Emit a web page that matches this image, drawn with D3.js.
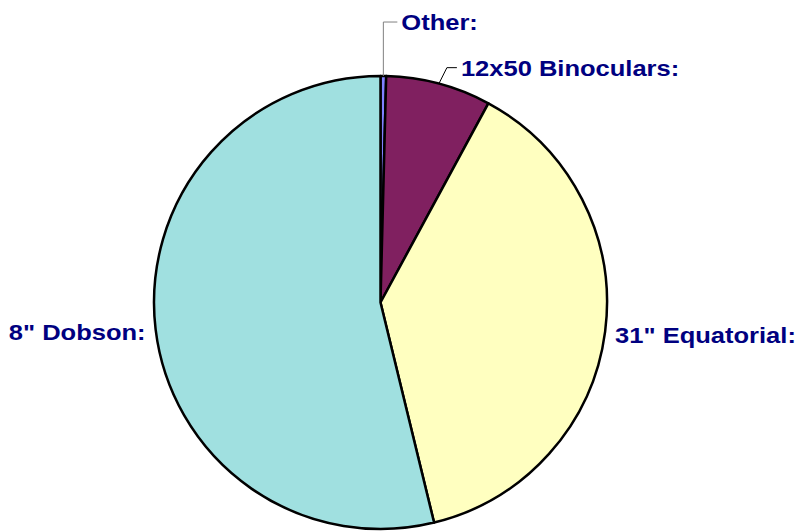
<!DOCTYPE html>
<html lang="en">
<head>
<meta charset="utf-8">
<title>Observing instruments</title>
<script src="https://d3js.org/d3.v7.min.js"></script>
<style>
  body { margin: 0; background: #fff; }
  .lbl { font-family: "Liberation Sans", Arial, sans-serif; font-weight: bold; font-size: 22px; fill: #000080; }
</style>
</head>
<body>
<div id="chart"></div>
<script>
// slices in clockwise order from 12 o'clock
var instruments = ["Other", "12x50 Binoculars", "31\" Equatorial", "8\" Dobson"];
var shares = [0.4, 7.5, 38.3, 53.8];
var colors = ["#8080FF", "#802060", "#FFFFC0", "#A0E0E0"];

var width = 802, height = 531,
    cx = 380.5, cy = 302.5, radius = 226.5;

var svg = d3.select("#chart")
    .append("svg")
    .attr("width", width)
    .attr("height", height);

var g = svg.append("g")
    .attr("transform", "translate(" + cx + "," + cy + ")");

var pie = d3.pie().sort(null).value(function(d) { return d.v; });
var data = pie(instruments.map(function(n, i) { return {name: n, v: shares[i], c: colors[i]}; }));

var arc = d3.arc().innerRadius(0).outerRadius(radius);

g.selectAll("path")
    .data(data)
    .enter()
    .append("path")
    .attr("d", arc)
    .attr("fill", function(d) { return d.data.c; })
    .attr("stroke", "#000")
    .attr("stroke-width", 2.5)
    .attr("stroke-linejoin", "round");

// label placement the way excel did it: leader for the thin slices, side labels for the big ones
// rise = how far the leader climbs, run = horizontal tail
var leaders = [
  {rise: 54, run: 14, slant: 0},
  {rise: 16, run: 10, slant: 8},
  null,
  null
];
var stretch = 1.16;

data.forEach(function(d, i) {
  var mid = (d.startAngle + d.endAngle) / 2;
  var ex = Math.sin(mid) * radius, ey = -Math.cos(mid) * radius;
  var L = leaders[i], tx, ty, anchor;
  if (L) {
    var x1 = ex + L.slant, y1 = ey - L.rise;
    g.append("path")
      .attr("d", "M" + ex + "," + ey + "L" + x1 + "," + y1 + "L" + (x1 + L.run) + "," + y1)
      .attr("fill", "none")
      .attr("stroke", i == 0 ? "#808080" : "#000")
      .attr("stroke-width", 1);
    tx = x1 + L.run + 4; ty = y1 + 8; anchor = "start";
  } else {
    var side = Math.sin(mid) < 0 ? -1 : 1;
    tx = ex + side * 10; ty = ey + 11;
    anchor = side < 0 ? "end" : "start";
  }
  g.append("text")
    .attr("class", "lbl")
    .attr("text-anchor", anchor)
    .attr("transform", "translate(" + tx + "," + ty + ") scale(" + stretch + ",1)")
    .text(d.data.name + ":");
});
</script>
</body>
</html>
